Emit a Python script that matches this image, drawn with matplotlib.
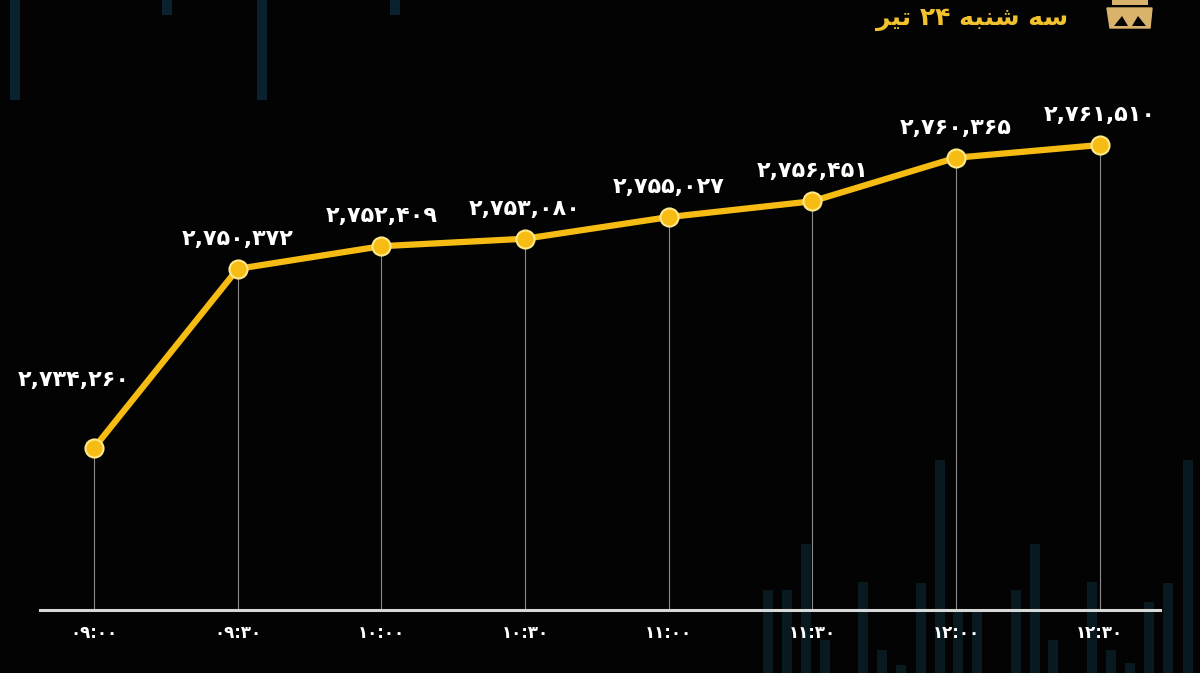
import numpy as np
import matplotlib
matplotlib.use("Agg")
import matplotlib.pyplot as plt
from matplotlib.patches import Polygon, Rectangle

# data
times = ["09:00", "09:30", "10:00", "10:30", "11:00", "11:30", "12:00", "12:30"]
values = [2734260, 2750372, 2752409, 2753080, 2755027, 2756451, 2760365, 2761510]

# title "سه شنبه ۲۴ تیر" written in visual order with presentation forms
title = "\uFEAE\uFEF4\uFE97 ۲۴ \uFEEA\uFE92\uFEE8\uFEB7 \uFEEA\uFEB3"

# decorative background bars (x pixel, top pixel)
deco_bottom = [(768, 590), (787, 590), (806, 544), (825, 640), (863, 582), (882, 650),
               (901, 665), (921, 583), (940, 460), (958, 610), (977, 610), (1016, 590),
               (1035, 544), (1053, 640), (1092, 582), (1111, 650), (1130, 663),
               (1149, 602), (1168, 583), (1188, 460)]
deco_top = [(15, 100), (167, 15), (262, 100), (395, 15)]

fa = str.maketrans("0123456789", "۰۱۲۳۴۵۶۷۸۹")
def persian(s):
    return s.translate(fa)

W, H = 1200, 673
fig = plt.figure(figsize=(12, 6.73), dpi=100, facecolor="#030303")

# background layer in pixel coords
bg = fig.add_axes([0, 0, 1, 1])
bg.set_xlim(0, W)
bg.set_ylim(H, 0)
bg.axis("off")
bg.set_facecolor("#030303")
for x, top in deco_bottom:
    bg.add_patch(Rectangle((x - 5, top), 10, H - top, color="#08191f", lw=0))
for x, bot in deco_top:
    bg.add_patch(Rectangle((x - 5, 0), 10, bot, color="#0a2230", lw=0))

# simple emblem
gold = "#d9b36c"
bg.add_patch(Polygon([(1107, 8), (1152, 8), (1150, 28), (1110, 28)], closed=True,
                     fc=gold, ec=gold))
bg.add_patch(Polygon([(1114, 26), (1122, 16), (1128, 26)], closed=True, fc="#030303", ec="none"))
bg.add_patch(Polygon([(1132, 26), (1138, 16), (1146, 26)], closed=True, fc="#030303", ec="none"))
bg.add_patch(Rectangle((1112, 0), 36, 5, color=gold, lw=0))

bg.text(1068, 19, title, ha="right", va="center", fontsize=18, fontweight="bold",
        color="#f2c12e", family="DejaVu Sans")

# main chart
ax = fig.add_axes([40 / W, (H - 610) / H, 1120 / W, 610 / H])
ax.patch.set_alpha(0)
x = np.arange(len(values))
ax.set_xlim(-0.376, 7.42)
ax.set_ylim(2719692, 2774550)

for s in ["top", "left", "right"]:
    ax.spines[s].set_visible(False)
ax.spines["bottom"].set_color("#d8d8d8")
ax.spines["bottom"].set_linewidth(2.2)
ax.set_yticks([])
ax.set_xticks(x)
ax.set_xticklabels([persian(t) for t in times], color="white", fontsize=12,
                   fontweight="bold")
ax.tick_params(axis="x", length=0, pad=10)

ax.vlines(x, ax.get_ylim()[0], values, color="#8a8a8a", lw=0.8, zorder=1)
ax.plot(x, values, color="#f6bc14", lw=4.5, marker="o", ms=13,
        mfc="#f6bc14", mec="#ffe88a", mew=1.5, zorder=3)

for i, v in enumerate(values):
    lbl = persian(f"{v:,}")
    if i == 0:
        off = (-20, 68)
    else:
        off = (0, 30)
    ax.annotate(lbl, (x[i], v), xytext=off, textcoords="offset pixels",
                ha="center", va="center", color="white", fontsize=16,
                fontweight="bold", zorder=4)

fig.savefig("out.png", dpi=100, facecolor=fig.get_facecolor())
